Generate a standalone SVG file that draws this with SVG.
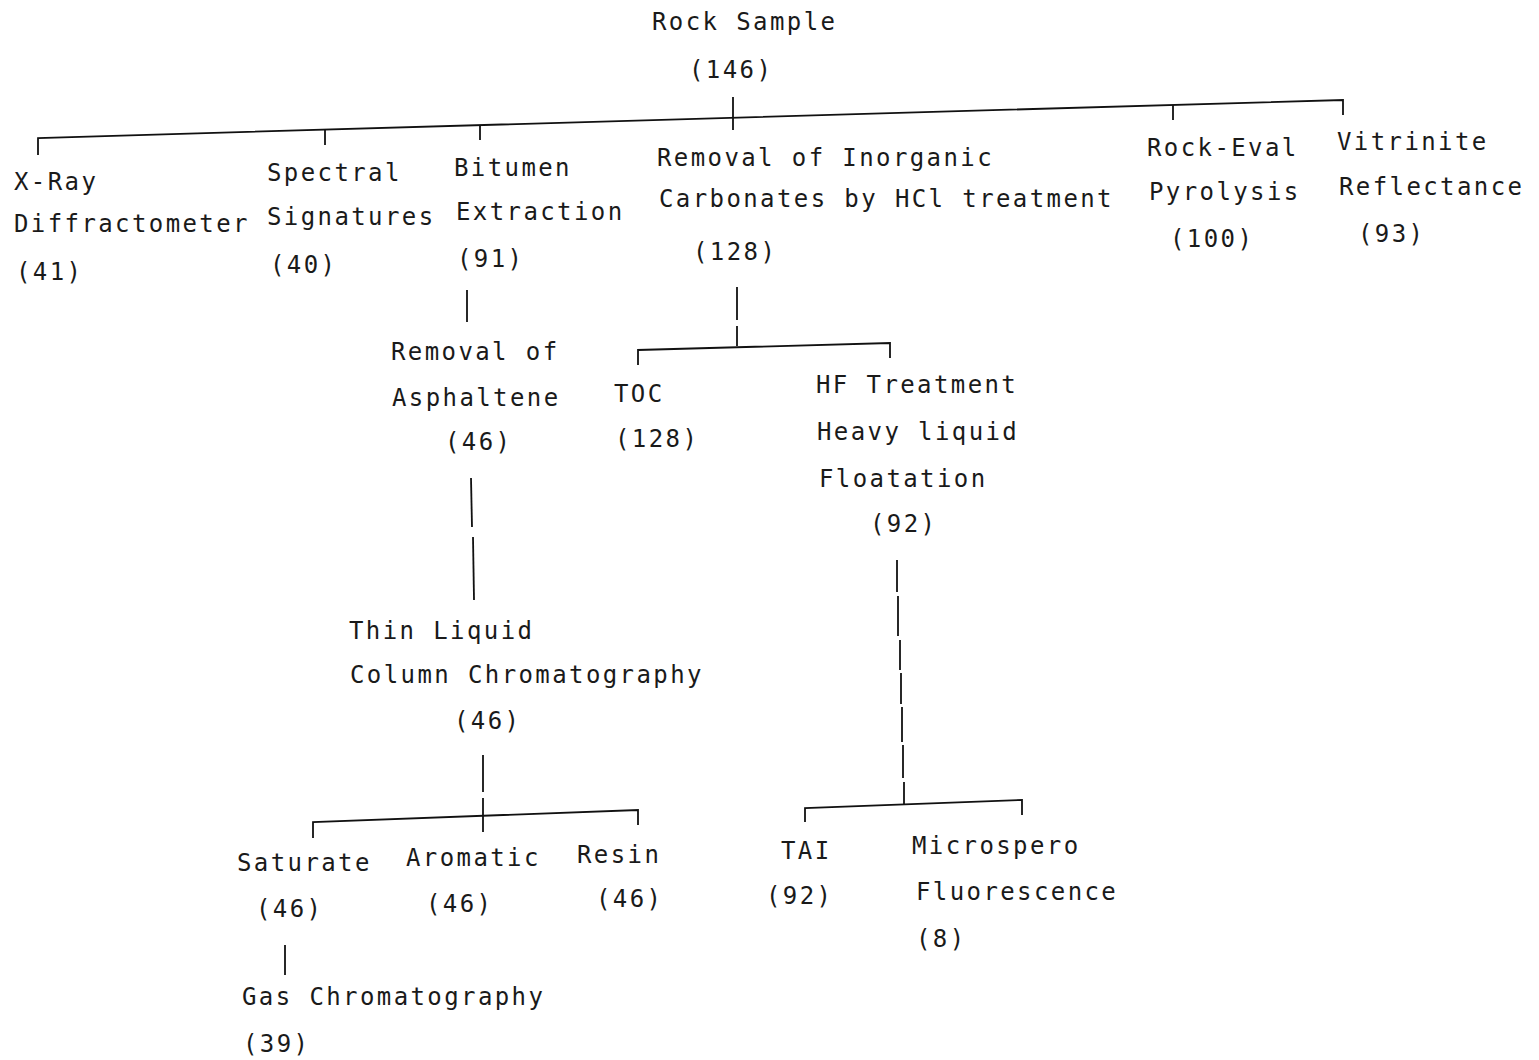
<svg xmlns="http://www.w3.org/2000/svg" width="1539" height="1060" viewBox="0 0 1539 1060">
<style>
text{font-family:"DejaVu Sans Mono","Liberation Mono",monospace;font-size:24px;letter-spacing:2.4px;fill:#1a1a1a}
.c line,.c polyline{stroke:#111;stroke-width:1.8;fill:none}
</style>
<rect width="1539" height="1060" fill="#fff"/>
<g class="c" id="connectors">
<line x1="733" y1="97" x2="733" y2="130"/>
<polyline points="38,155 38,138 1343,100 1343,115"/>
<line x1="325" y1="129" x2="325" y2="145"/>
<line x1="480" y1="125" x2="480" y2="140"/>
<line x1="1173" y1="105" x2="1173" y2="120"/>
<line x1="467" y1="290" x2="467" y2="322"/>
<line x1="737" y1="287" x2="737" y2="320"/>
<line x1="737" y1="326" x2="737" y2="346"/>
<polyline points="638,365 638,350 890,343 890,358"/>
<line x1="471" y1="478" x2="472" y2="527"/>
<line x1="473" y1="537" x2="474" y2="600"/>
<line x1="483" y1="755" x2="483" y2="792"/>
<line x1="483" y1="798" x2="483" y2="832"/>
<polyline points="313,838 313,822 638,810 638,825"/>
<line x1="285" y1="945" x2="285" y2="975"/>
<line x1="897" y1="560" x2="897" y2="592"/>
<line x1="898" y1="596" x2="898" y2="636"/>
<line x1="900" y1="640" x2="900" y2="670"/>
<line x1="901" y1="673" x2="901" y2="704"/>
<line x1="902" y1="707" x2="902" y2="742"/>
<line x1="903" y1="745" x2="903" y2="778"/>
<line x1="904" y1="782" x2="904" y2="804"/>
<polyline points="805,822 805,808 1022,800 1022,815"/>
</g>
<g id="rock"><text x="652" y="30">Rock Sample</text><text x="689" y="78">(146)</text></g>
<g id="xray"><text x="14" y="190">X-Ray</text><text x="14" y="232">Diffractometer</text><text x="16" y="280">(41)</text></g>
<g id="spectral"><text x="267" y="181">Spectral</text><text x="267" y="225">Signatures</text><text x="270" y="273">(40)</text></g>
<g id="bitumen"><text x="454" y="176">Bitumen</text><text x="456" y="220">Extraction</text><text x="457" y="267">(91)</text></g>
<g id="removal"><text x="657" y="166">Removal of Inorganic</text><text x="659" y="207">Carbonates by HCl treatment</text><text x="693" y="260">(128)</text></g>
<g id="rockeval"><text x="1147" y="156">Rock-Eval</text><text x="1149" y="200">Pyrolysis</text><text x="1170" y="247">(100)</text></g>
<g id="vitrinite"><text x="1337" y="150">Vitrinite</text><text x="1339" y="195">Reflectance</text><text x="1358" y="242">(93)</text></g>
<g id="asphaltene"><text x="391" y="360">Removal of</text><text x="392" y="406">Asphaltene</text><text x="445" y="450">(46)</text></g>
<g id="toc"><text x="614" y="402">TOC</text><text x="615" y="447">(128)</text></g>
<g id="hf"><text x="816" y="393">HF Treatment</text><text x="817" y="440">Heavy liquid</text><text x="819" y="487">Floatation</text><text x="870" y="532">(92)</text></g>
<g id="tlc"><text x="349" y="639">Thin Liquid</text><text x="350" y="683">Column Chromatography</text><text x="454" y="729">(46)</text></g>
<g id="saturate"><text x="237" y="871">Saturate</text><text x="256" y="917">(46)</text></g>
<g id="aromatic"><text x="406" y="866">Aromatic</text><text x="426" y="912">(46)</text></g>
<g id="resin"><text x="577" y="863">Resin</text><text x="596" y="907">(46)</text></g>
<g id="gc"><text x="242" y="1005">Gas Chromatography</text><text x="243" y="1052">(39)</text></g>
<g id="tai"><text x="781" y="859">TAI</text><text x="766" y="904">(92)</text></g>
<g id="micro"><text x="912" y="854">Microspero</text><text x="916" y="900">Fluorescence</text><text x="916" y="947">(8)</text></g>
</svg>
